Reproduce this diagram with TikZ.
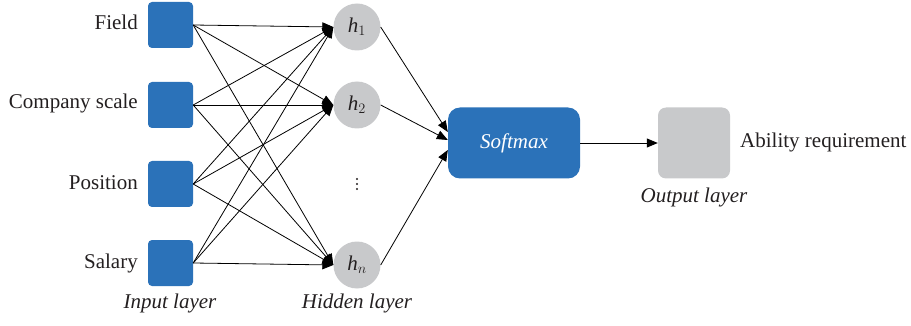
\documentclass[tikz,border=0pt]{standalone}
\usepackage{fontspec}
\setmainfont{Liberation Serif}
\usetikzlibrary{arrows.meta}
\definecolor{inblue}{HTML}{2B72B9}
\definecolor{hgray}{HTML}{C8C9CB}
\definecolor{txt}{HTML}{231F20}
\begin{document}
\begin{tikzpicture}[x=1pt,y=-1pt,
  lbl/.style={text=txt,font=\fontsize{21}{24}\selectfont,inner sep=0pt},
  inbox/.style={fill=inblue,rounded corners=4pt,minimum width=45pt,minimum height=46pt,inner sep=0pt},
  hid/.style={circle,fill=hgray,minimum size=47pt,inner sep=0pt,text=txt,font=\fontsize{21}{24}\selectfont},
  conn/.style={draw=black,line width=0.8pt,-{Triangle[length=11pt,width=9pt]}},
  dot/.style={circle,fill=txt,minimum size=2.2pt,inner sep=0pt},
  ]
\useasboundingbox (0,0) rectangle (911,326);
% input layer
\node[inbox] (i1) at (170.5,25) {};
\node[inbox] (i2) at (170.5,105) {};
\node[inbox] (i3) at (170.5,184) {};
\node[inbox] (i4) at (170.5,263) {};
\node[lbl,anchor=east] (l1) at (138,22) {Field};
\node[lbl,anchor=east] (l2) at (138,103) {Company scale};
\node[lbl,anchor=east] (l3) at (138,183) {Position};
\node[lbl,anchor=east] (l4) at (138,263) {Salary};
\node[lbl] (il) at (170,303) {\itshape Input layer};
% hidden layer
\node[hid] (h1) at (357,27) {\textit{h}$_{1}$};
\node[hid] (h2) at (357,105) {\textit{h}$_{2}$};
\node[hid] (hn) at (357,265) {\textit{h}$_{n}$};
\node[dot] (d1) at (357,179) {};
\node[dot] (d2) at (357,184) {};
\node[dot] (d3) at (357,189) {};
\node[lbl] (hl) at (357,303) {\itshape Hidden layer};
% softmax and output
\node[fill=inblue,rounded corners=12pt,minimum width=132pt,minimum height=71pt,inner sep=0pt,
  text=white,font=\fontsize{21}{24}\selectfont\itshape] (sm) at (514,143) {Softmax};
\node[fill=hgray,rounded corners=8pt,minimum width=72pt,minimum height=71pt,inner sep=0pt] (out) at (694,143) {};
\node[lbl,anchor=west] (ab) at (740,142) {Ability requirement};
\node[lbl] (ol) at (694,197) {\itshape Output layer};
% connections
\foreach \i in {i1,i2,i3,i4}{
  \foreach \h in {h1,h2,hn}{
    \draw[conn] (\i.east) -- (\h.west);
  }
}
\draw[conn] (h1.east) -- ([yshift=11pt]sm.west);
\draw[conn] (h2.east) -- ([yshift=3pt]sm.west);
\draw[conn] (hn.east) -- ([yshift=-7pt]sm.west);
\draw[conn] (sm.east) -- (out.west);
\end{tikzpicture}
\end{document}
